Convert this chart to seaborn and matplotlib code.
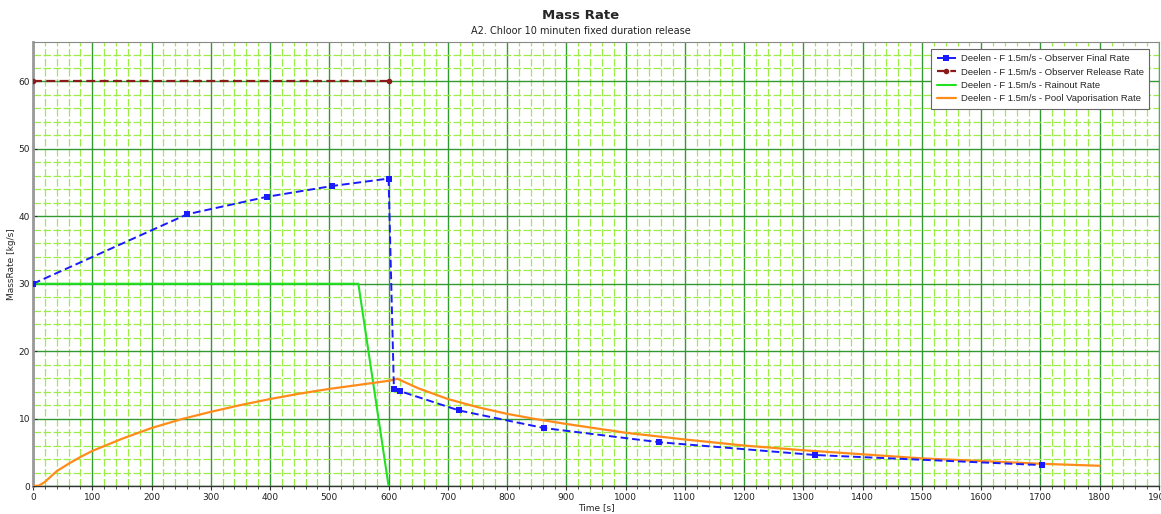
import numpy as np
import pandas as pd
import matplotlib
matplotlib.use("Agg")
import matplotlib.pyplot as plt
import seaborn as sns
from matplotlib.ticker import MultipleLocator

# ---- data ----
final_t = [0, 260, 395, 505, 600, 609, 620, 719, 862, 1056, 1319, 1702]
final_v = [30.0, 40.3, 42.9, 44.5, 45.6, 14.4, 14.05, 11.2, 8.6, 6.5, 4.6, 3.1]

release_t = [0, 600]
release_v = [60.0, 60.0]

rainout_t = [0, 549, 600]
rainout_v = [30.0, 30.0, 0.0]

pool_t = [0, 10, 20, 30, 40, 60, 80, 100, 150, 200, 250, 300, 350, 400, 450, 500,
          550, 600, 615, 650, 700, 750, 800, 850, 900, 1000, 1100, 1200, 1300,
          1400, 1500, 1600, 1700, 1800]
pool_v = [0.0, 0.05, 0.6, 1.4, 2.2, 3.3, 4.3, 5.2, 7.0, 8.6, 9.9, 11.0, 12.0, 12.9,
          13.7, 14.4, 15.0, 15.6, 15.9, 14.5, 12.9, 11.7, 10.7, 9.9, 9.2, 7.9, 6.9,
          6.0, 5.3, 4.7, 4.1, 3.7, 3.3, 3.0]

labels = ["Deelen - F 1.5m/s - Observer Final Rate",
          "Deelen - F 1.5m/s - Observer Release Rate",
          "Deelen - F 1.5m/s - Rainout Rate",
          "Deelen - F 1.5m/s - Pool Vaporisation Rate"]

sns.set_style("white")
plt.rcParams['font.family'] = ['DejaVu Sans']

fig = plt.figure(figsize=(11.61, 5.14), dpi=100)
ax = fig.add_axes([33/1161, 28/514, 1126/1161, 444.3/514])

major_c = "#339933"
minor_c = "#9cec4a"

df_final = pd.DataFrame({"t": final_t, "v": final_v})
df_rel = pd.DataFrame({"t": release_t, "v": release_v})
df_rain = pd.DataFrame({"t": rainout_t, "v": rainout_v})
df_pool = pd.DataFrame({"t": pool_t, "v": pool_v})

sns.lineplot(data=df_rain, x="t", y="v", ax=ax, color="#22e022", lw=1.5,
             label=labels[2], zorder=4, sort=False)
sns.lineplot(data=df_pool, x="t", y="v", ax=ax, color="#ff8c1a", lw=1.6,
             label=labels[3], zorder=4, sort=False)
sns.lineplot(data=df_rel, x="t", y="v", ax=ax, color="#8b1a1a", lw=1.6,
             linestyle=(0, (4, 2)), marker="o", markersize=4, markeredgewidth=0,
             label=labels[1], zorder=5, sort=False)
sns.lineplot(data=df_final, x="t", y="v", ax=ax, color="#1a1aff", lw=1.4,
             linestyle=(0, (4, 2)), marker="s", markersize=4.5, markeredgewidth=0,
             label=labels[0], zorder=6, sort=False)

ax.set_xlim(0, 1900)
ax.set_ylim(0, 65.9)
ax.xaxis.set_major_locator(MultipleLocator(100))
ax.xaxis.set_minor_locator(MultipleLocator(20))
ax.yaxis.set_major_locator(MultipleLocator(10))
ax.yaxis.set_minor_locator(MultipleLocator(2))

ax.grid(True, which="minor", color=minor_c, linestyle=(0, (6, 2)), lw=0.9, zorder=0)
ax.grid(True, which="major", color=major_c, linestyle="-", lw=1.0, zorder=1)
ax.set_axisbelow(True)

ax.tick_params(axis="both", which="major", labelsize=6.5, length=3, width=0.8,
               color="#333333", labelcolor="#222222", pad=2)
ax.tick_params(axis="both", which="minor", length=2, width=0.6, color="#333333")
ax.tick_params(axis="y", which="both", direction="in")
ax.tick_params(axis="x", which="both", direction="out", bottom=True)
ax.tick_params(axis="y", left=True)

for s in ["top", "right"]:
    ax.spines[s].set_color("#888888")
    ax.spines[s].set_linewidth(0.8)
ax.spines["left"].set_color("#999999")
ax.spines["left"].set_linewidth(2)
ax.spines["bottom"].set_color("#333333")
ax.spines["bottom"].set_linewidth(1)

ax.set_xlabel("Time [s]", fontsize=6.5, labelpad=1)
ax.set_ylabel("MassRate [kg/s]", fontsize=6.5, labelpad=2)

fig.text(0.5, 0.970, "Mass Rate", ha="center", va="center", fontsize=9.5, fontweight="bold")
fig.text(0.5, 0.94, "A2. Chloor 10 minuten fixed duration release", ha="center",
         va="center", fontsize=7, color="#222222")

handles, labs = ax.get_legend_handles_labels()
order = [labs.index(l) for l in labels]
leg = ax.legend([handles[i] for i in order], [labs[i] for i in order],
                loc="upper right", bbox_to_anchor=(0.9956, 0.9948),
                prop={"family": "Liberation Sans", "size": 6.8},
                frameon=True, fancybox=False, edgecolor="#666666", framealpha=1,
                handlelength=2.0, borderpad=0.6, labelspacing=0.45, handletextpad=0.5)
leg.get_frame().set_linewidth(0.8)

fig.savefig("out.png", dpi=100)
